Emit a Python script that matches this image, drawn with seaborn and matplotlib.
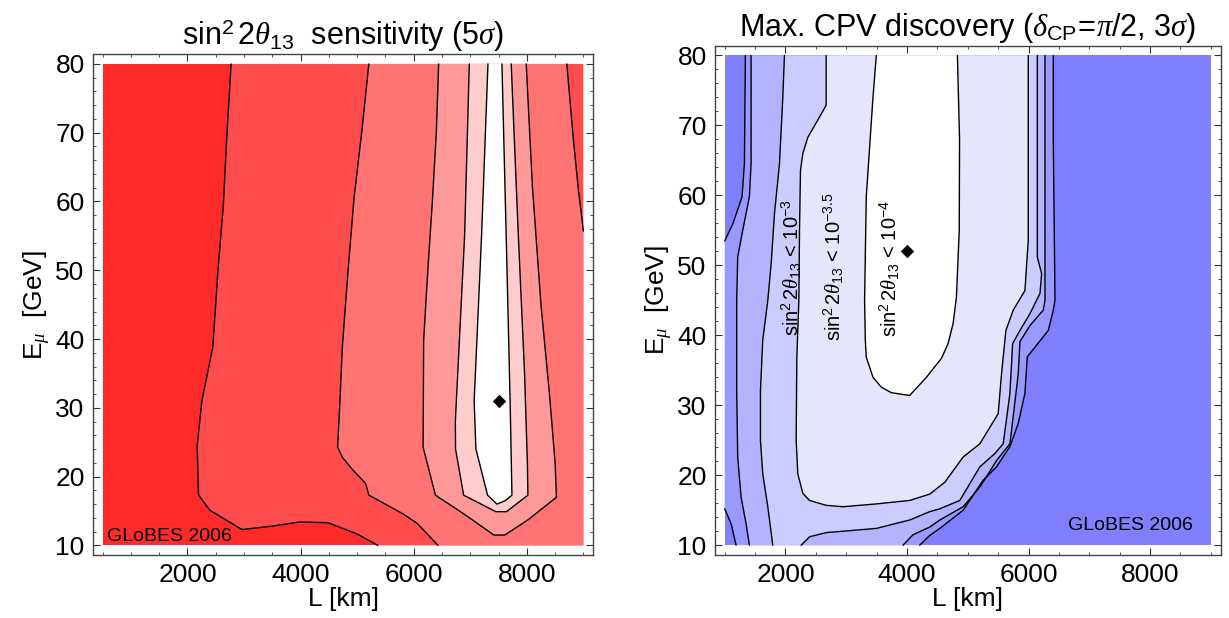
import numpy as np
import pandas as pd
import seaborn as sns
import matplotlib.pyplot as plt
from matplotlib.ticker import MultipleLocator

sns.set_theme(style="white")
plt.rcParams["font.family"] = ["Liberation Sans", "DejaVu Sans"]
plt.rcParams["mathtext.fontset"] = "custom"
plt.rcParams["mathtext.rm"] = "Liberation Sans"
plt.rcParams["mathtext.it"] = "Liberation Serif:italic"
plt.rcParams["mathtext.bf"] = "Liberation Sans:bold"
for key in ["text.color", "axes.labelcolor", "xtick.color", "ytick.color"]:
    plt.rcParams[key] = "black"

# ---- left panel: sin^2 2theta13 sensitivity, contour lines (L [km], E [GeV])
sens_L_range = [500, 9000]
sens_E_range = [10, 80]
sens_c1_L = [2772, 2700, 2634, 2540, 2448, 2255, 2172, 2196, 2398, 2966, 3500, 3977, 4482, 4987, 5366]
sens_c1_E = [80, 70, 59.4, 50, 38.8, 31, 24.5, 17.3, 15.1, 12.3, 12.8, 13.4, 13.3, 11.7, 10]
sens_c2_L = [5207, 5080, 4945, 4840, 4738, 4690, 4655, 4740, 4920, 5150, 5209, 5430, 5808, 6061, 6430]
sens_c2_E = [80, 70, 60.5, 50, 38.8, 30, 24.3, 22.8, 21.0, 19.0, 17.3, 16.3, 14.6, 13.2, 10]
sens_c2b_L = [8707, 8824, 8912, 9000]
sens_c2b_E = [80, 68.9, 61.7, 55.7]
sens_c3_L = [6441, 6400, 6330, 6250, 6176, 6166, 6384, 6882, 7419, 7609, 8019, 8524, 8500, 8400, 8250, 8100, 7989]
sens_c3_E = [80, 70, 60, 50, 39.8, 24.3, 17.3, 14.6, 11.5, 11.5, 13.7, 17.0, 22, 32, 45, 62, 80]
sens_c4_L = [6983, 6900, 6736, 6740, 6883, 7451, 7640, 8019, 8010, 7960, 7850, 7724]
sens_c4_E = [80, 55, 28, 24, 17.3, 14.9, 14.9, 17.3, 22, 35, 55, 80]
sens_c5_L = [7313, 7200, 7069, 7100, 7306, 7472, 7618, 7737, 7707, 7650, 7560]
sens_c5_E = [80, 55, 31, 24, 17.3, 16.0, 16.5, 17.3, 30, 50, 80]
sens_best = (7500, 31)

# ---- right panel: max. CPV discovery reach, contour lines (L [km], E [GeV])
cpv_L_range = [1000, 9000]
cpv_E_range = [10, 80]
cpv_c1_top_L = [1340, 1324, 1285, 1132, 1000]
cpv_c1_top_E = [80, 64.5, 59.8, 55.9, 53.5]
cpv_c1_corner_L = [1000, 1104, 1187]
cpv_c1_corner_E = [15.2, 13.1, 10]
cpv_c1_right_L = [6408, 6408, 6436, 6408, 6326, 6024, 5979, 5941, 5831, 5694, 5474, 5254, 4924, 4540, 4375, 4209]
cpv_c1_right_E = [80, 67.9, 45, 43.6, 40.7, 37.4, 36.9, 31.7, 27.4, 24.1, 21.2, 19.3, 15, 12.4, 11.4, 10]
cpv_c2_left_L = [1434, 1434, 1406, 1296, 1214, 1197, 1197, 1214, 1269, 1351, 1406]
cpv_c2_left_E = [80, 64.5, 59.8, 55, 51.2, 45, 32.1, 22.6, 16.9, 13.1, 10]
cpv_c2_right_L = [6271, 6271, 6243, 6024, 5859, 5831, 5793, 5694, 5474, 5199, 4924, 4540, 4375, 4100, 3934]
cpv_c2_right_E = [80, 45, 43.6, 41.4, 39.1, 34.5, 31.7, 24.5, 22.1, 18.3, 15.5, 13.6, 12.6, 11.5, 10]
cpv_c3_left_L = [1983, 1956, 1901, 1819, 1764, 1709, 1626, 1588, 1588, 1626, 1709, 1791]
cpv_c3_left_E = [80, 74, 64.5, 57.4, 50.2, 45, 39.3, 32.1, 25, 20.2, 15.5, 10]
cpv_c3_right_L = [6145, 6145, 6216, 6189, 6024, 5859, 5738, 5694, 5584, 5446, 5199, 4869, 4540, 4375, 4044, 3495, 2670, 2396, 2258]
cpv_c3_right_E = [80, 51.2, 48.8, 46, 43.1, 40.7, 38.8, 31.7, 24.5, 23.1, 21.2, 16.4, 15.2, 14.8, 13.6, 12.4, 11.8, 11.2, 10]
cpv_c4_L = [2670, 2670, 2560, 2368, 2286, 2247, 2231, 2220, 2187, 2176, 2203, 2286, 2396, 2670, 2945, 3495,
            4044, 4374, 4622, 4924, 5199, 5501, 5556, 5628, 5749, 5941, 5996, 5996]
cpv_c4_E = [80, 72.9, 71.2, 68.3, 66, 63.6, 55, 45, 36.9, 25, 20.2, 17.4, 16.4, 15.7, 15.5, 15.9,
            16.4, 17.3, 19.0, 22.6, 24.5, 28.8, 34.5, 40.7, 43.6, 46.4, 53.6, 80]
cpv_c5_L = [3495, 3440, 3385, 3330, 3302, 3314, 3330, 3440, 3577, 3742, 4044, 4319, 4566, 4676, 4759, 4814, 4860, 4865, 4830]
cpv_c5_E = [80, 74, 66.9, 59.8, 45, 39.3, 36.9, 34, 32.6, 31.8, 31.4, 34, 36.7, 38.8, 41.7, 45.5, 55, 68, 80]
cpv_best = (4000, 52)
cpv_labels = [r"sin$^2\,2\theta_{13}$ < 10$^{-3}$", r"sin$^2\,2\theta_{13}$ < 10$^{-3.5}$",
              r"sin$^2\,2\theta_{13}$ < 10$^{-4}$"]
cpv_label_L = [2107, 2790, 3715]
cpv_label_E = [49.7, 49.8, 49.6]

reds = ["#ff2a2a", "#ff4d4d", "#ff7373", "#ff9999", "#ffcccc", "#ffffff"]
blues = ["#8080ff", "#9999ff", "#b3b3ff", "#ccccff", "#e6e6fb", "#ffffff"]


def line(ax, L, E):
    sns.lineplot(x=L, y=E, sort=False, estimator=None, color="black", lw=1.0, ax=ax)


def setup(ax, lr, er):
    pl = 0.02 * (lr[1] - lr[0])
    pe = 0.02 * (er[1] - er[0])
    ax.set_xlim(lr[0] - pl, lr[1] + pl)
    ax.set_ylim(er[0] - pe, er[1] + pe)
    ax.xaxis.set_major_locator(MultipleLocator(2000))
    ax.xaxis.set_minor_locator(MultipleLocator(500))
    ax.yaxis.set_major_locator(MultipleLocator(10))
    ax.yaxis.set_minor_locator(MultipleLocator(2))
    ax.tick_params(which="both", direction="in", top=True, right=True, bottom=True, left=True,
                   labelsize=19, color="#333333")
    ax.tick_params(which="major", length=5, width=0.8, pad=6)
    ax.tick_params(which="minor", length=2.5, width=0.6)
    for s in ax.spines.values():
        s.set_color("#444444")
        s.set_linewidth(1.0)
    ax.set_xlabel("L [km]", fontsize=19, labelpad=0)
    ax.set_ylabel(r"E$_{\mu}$  [GeV]", fontsize=19, labelpad=2)


fig = plt.figure(figsize=(12.29, 6.18), dpi=100)
ax1 = fig.add_axes([93 / 1229, 1 - 555 / 618, 500 / 1229, 500.7 / 618])
ax2 = fig.add_axes([715 / 1229, 1 - 555 / 618, 505.5 / 1229, 509.3 / 618])

# left panel: nested filled regions, then the contour lines
lr, er = sens_L_range, sens_E_range
ax1.fill([lr[0], lr[1], lr[1], lr[0]], [er[0], er[0], er[1], er[1]], color=reds[0], lw=0)
ax1.fill(sens_c1_L + [lr[1], lr[1]], sens_c1_E + [er[0], er[1]], color=reds[1], lw=0)
ax1.fill(sens_c2_L + [lr[1]] + sens_c2b_L[::-1], sens_c2_E + [er[0]] + sens_c2b_E[::-1], color=reds[2], lw=0)
ax1.fill(sens_c3_L, sens_c3_E, color=reds[3], lw=0)
ax1.fill(sens_c4_L, sens_c4_E, color=reds[4], lw=0)
ax1.fill(sens_c5_L, sens_c5_E, color=reds[5], lw=0)
for L, E in [(sens_c1_L, sens_c1_E), (sens_c2_L, sens_c2_E), (sens_c2b_L, sens_c2b_E),
             (sens_c3_L, sens_c3_E), (sens_c4_L, sens_c4_E), (sens_c5_L, sens_c5_E)]:
    line(ax1, L, E)
sns.scatterplot(x=[sens_best[0]], y=[sens_best[1]], marker="D", s=40, color="black",
                edgecolor="black", ax=ax1, zorder=5)
setup(ax1, lr, er)
ax1.set_title(r"sin$^2\,$2$\theta_{13}$  sensitivity (5$\sigma$)", fontsize=22, pad=7)
ax1.text(577, 10.6, "GLoBES 2006", fontsize=14, ha="left", va="baseline")

# right panel
lr, er = cpv_L_range, cpv_E_range
ax2.fill([lr[0], lr[1], lr[1], lr[0]], [er[0], er[0], er[1], er[1]], color=blues[0], lw=0)
ax2.fill(cpv_c1_top_L + cpv_c1_corner_L + cpv_c1_right_L[::-1],
         cpv_c1_top_E + cpv_c1_corner_E + cpv_c1_right_E[::-1], color=blues[1], lw=0)
ax2.fill(cpv_c2_left_L + cpv_c2_right_L[::-1], cpv_c2_left_E + cpv_c2_right_E[::-1], color=blues[2], lw=0)
ax2.fill(cpv_c3_left_L + cpv_c3_right_L[::-1], cpv_c3_left_E + cpv_c3_right_E[::-1], color=blues[3], lw=0)
ax2.fill(cpv_c4_L, cpv_c4_E, color=blues[4], lw=0)
ax2.fill(cpv_c5_L, cpv_c5_E, color=blues[5], lw=0)
for L, E in [(cpv_c1_top_L, cpv_c1_top_E), (cpv_c1_corner_L, cpv_c1_corner_E),
             (cpv_c1_right_L, cpv_c1_right_E), (cpv_c2_left_L, cpv_c2_left_E),
             (cpv_c2_right_L, cpv_c2_right_E), (cpv_c3_left_L, cpv_c3_left_E),
             (cpv_c3_right_L, cpv_c3_right_E), (cpv_c4_L, cpv_c4_E), (cpv_c5_L, cpv_c5_E)]:
    line(ax2, L, E)
sns.scatterplot(x=[cpv_best[0]], y=[cpv_best[1]], marker="D", s=40, color="black",
                edgecolor="black", ax=ax2, zorder=5)
for txt, x, y in zip(cpv_labels, cpv_label_L, cpv_label_E):
    ax2.text(x, y, txt, rotation=90, fontsize=14.5, ha="center", va="center")
setup(ax2, lr, er)
ax2.set_title(r"Max. CPV discovery $(\delta_{\rm CP}\!=\!\pi/2,\,3\sigma)$", fontsize=22, pad=7)
ax2.text(8700, 12.2, "GLoBES 2006", fontsize=14, ha="right", va="baseline")

fig.savefig("out.png", dpi=100)
